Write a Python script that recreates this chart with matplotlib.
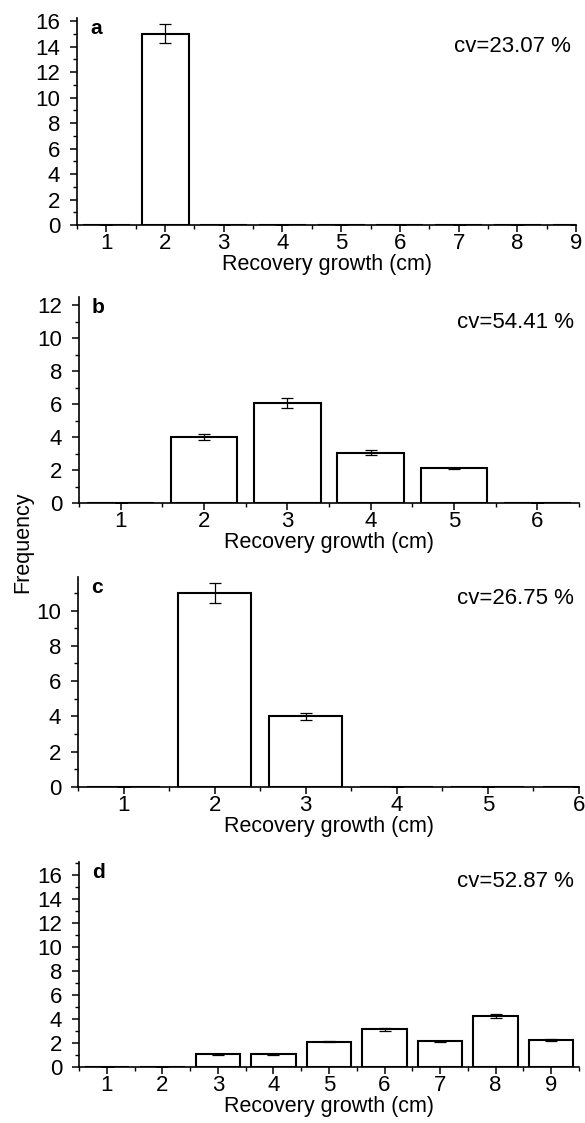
import numpy as np
import matplotlib
matplotlib.use('Agg')
import matplotlib.pyplot as plt
from matplotlib.ticker import MultipleLocator

plt.rcParams['font.family'] = ['Liberation Sans', 'DejaVu Sans']

# panel a
a_x = [1, 2, 3, 4, 5, 6, 7, 8, 9]
a_y = [0, 15, 0, 0, 0, 0, 0, 0, 0]
a_err = [0, 0.75, 0, 0, 0, 0, 0, 0, 0]
# panel b
b_x = [1, 2, 3, 4, 5, 6]
b_y = [0, 4.0, 6.05, 3.05, 2.1, 0]
b_err = [0, 0.2, 0.3, 0.15, 0.05, 0]
# panel c
c_x = [1, 2, 3, 4, 5, 6]
c_y = [0, 11.0, 4.0, 0, 0, 0]
c_err = [0, 0.55, 0.2, 0, 0, 0]
# panel d
d_x = [1, 2, 3, 4, 5, 6, 7, 8, 9]
d_y = [0, 0, 1.05, 1.05, 2.1, 3.15, 2.15, 4.25, 2.25]
d_err = [0, 0, 0.03, 0.03, 0.05, 0.12, 0.05, 0.2, 0.05]

cv_labels = ['cv=23.07 %', 'cv=54.41 %', 'cv=26.75 %', 'cv=52.87 %']
panel_ids = ['a', 'b', 'c', 'd']

W, H = 585, 1123
fig = plt.figure(figsize=(W / 100, H / 100), dpi=100)

# pixel boxes: left, right, top, bottom
boxes = [(77, 576, 18, 225), (79, 579, 297, 503), (78, 579, 577, 787), (79, 579, 862, 1067)]
xlims = [(0.5, 9.0), (0.5, 6.5), (0.5, 6.0), (0.5, 9.5)]
ylims = [(0, 16.25), (0, 12.5), (0, 11.9), (0, 17.1)]
yticks = [np.arange(0, 17, 2), np.arange(0, 13, 2), np.arange(0, 11, 2), np.arange(0, 17, 2)]
cv_y = [0.86, 0.874, 0.90, 0.903]

data = [(a_x, a_y, a_err), (b_x, b_y, b_err), (c_x, c_y, c_err), (d_x, d_y, d_err)]

for i, (x, y, err) in enumerate(data):
    l, r, t, b = boxes[i]
    ax = fig.add_axes([l / W, 1 - b / H, (r - l) / W, (b - t) / H])
    ax.bar(x, y, width=0.8, color='white', edgecolor='black', linewidth=1.5, zorder=2)
    ax.errorbar(x, y, yerr=err, fmt='none', ecolor='black', elinewidth=0.9,
                capsize=4, capthick=0.9, zorder=3)
    ax.set_xlim(*xlims[i])
    ax.set_ylim(*ylims[i])
    ax.set_xticks(x)
    ax.set_yticks(yticks[i])
    ax.xaxis.set_minor_locator(MultipleLocator(0.5))
    ax.yaxis.set_minor_locator(MultipleLocator(1))
    ax.spines['top'].set_visible(False)
    ax.spines['right'].set_visible(False)
    ax.spines['left'].set_linewidth(1.2)
    ax.spines['bottom'].set_linewidth(1.2)
    ax.tick_params(which='major', direction='out', length=5, width=1.1, labelsize=16)
    ax.tick_params(axis='x', which='major', pad=1)
    ax.tick_params(axis='y', which='major', pad=7)
    ax.tick_params(which='minor', direction='out', length=3, width=1.0)
    ax.set_xlabel('Recovery growth (cm)', fontsize=15.5, labelpad=0)
    ax.text(0.026, 0.95, panel_ids[i], transform=ax.transAxes, fontsize=15,
            fontweight='bold', ha='left', va='center')
    ax.text(0.99, cv_y[i], cv_labels[i], transform=ax.transAxes, fontsize=16,
            ha='right', va='center')

fig.text(23 / W, 1 - 542 / H, 'Frequency', rotation=90, fontsize=15.5, ha='center', va='center')

fig.savefig('out.png', dpi=100)
